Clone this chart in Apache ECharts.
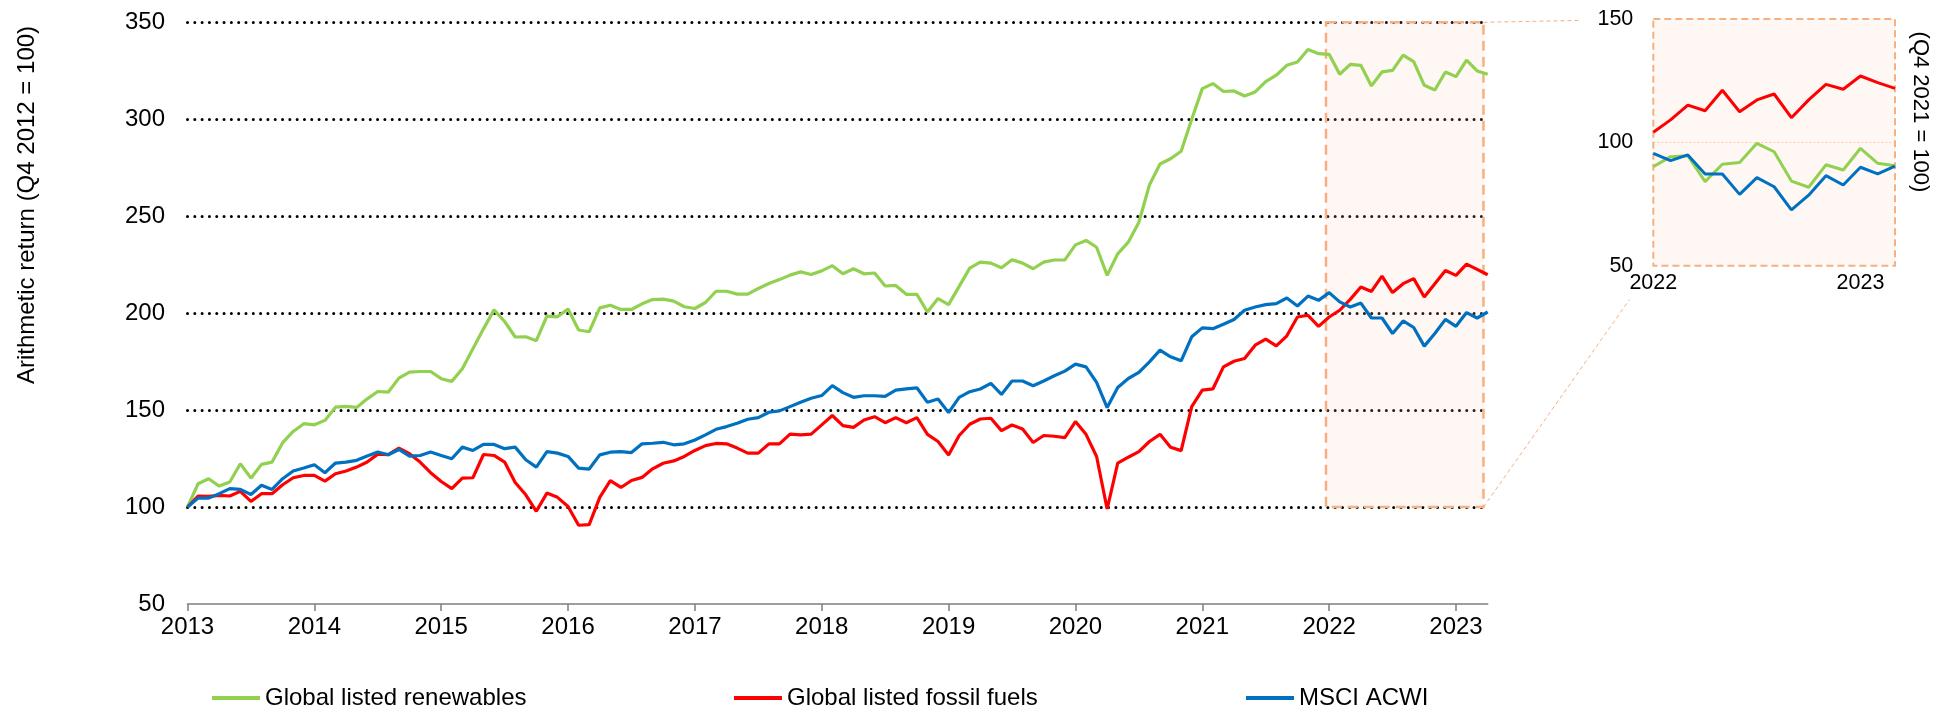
<!DOCTYPE html>
<html>
<head>
<meta charset="utf-8">
<title>Global listed renewables vs fossil fuels vs MSCI ACWI</title>
<script src="https://cdn.jsdelivr.net/npm/echarts@6/dist/echarts.min.js"></script>
<style>
  html, body { margin: 0; padding: 0; background: #fff; }
  #chart { width: 1944px; height: 713px; }
</style>
</head>
<body>
<div id="chart"></div>
<script>
// Monthly index levels, Q4 2012 = 100 (first point sits on the 2013 tick)
const years = [2013, 2014, 2015, 2016, 2017, 2018, 2019, 2020, 2021, 2022, 2023];

const renewables = [
  100.0, 112.0, 114.6, 110.8, 112.9, 122.3, 114.9, 122.0, 123.2, 133.2, 139.0, 143.0,
  142.4, 144.7, 151.5, 151.9, 151.4, 155.8, 159.6, 159.3, 166.5, 169.6, 169.9, 169.9,
  166.2, 164.8, 171.3, 181.6, 191.9, 201.7, 195.7, 187.7, 187.8, 185.8, 198.5, 198.1,
  202.1, 191.3, 190.4, 202.7, 204.1, 201.9, 201.9, 204.8, 207.0, 207.2, 206.2, 203.3,
  202.4, 205.5, 211.3, 211.3, 209.8, 209.8, 212.7, 215.3, 217.3, 219.6, 221.3, 219.9,
  221.8, 224.5, 220.3, 222.9, 220.3, 220.7, 214.0, 214.3, 209.7, 209.7, 200.6, 207.5,
  204.4, 213.8, 223.2, 226.3, 225.8, 223.4, 227.5, 225.8, 222.9, 226.3, 227.4, 227.5,
  235.2, 237.5, 234.0, 219.5, 230.6, 236.6, 246.9, 266.1, 276.9, 279.6, 283.5, 300.0,
  315.8, 318.4, 314.3, 314.6, 312.0, 314.1, 319.4, 322.7, 327.8, 329.5, 336.0, 333.8,
  333.5, 323.2, 328.3, 327.8, 317.2, 324.4, 325.2, 333.1, 329.7, 317.5, 315.1, 324.4,
  322.0, 330.5, 324.9, 323.2
];

const fossilFuels = [
  100.0, 105.7, 105.5, 106.0, 105.7, 108.1, 102.9, 106.9, 106.9, 111.5, 115.1, 116.3,
  116.3, 113.4, 117.2, 118.6, 120.6, 123.2, 127.3, 127.0, 130.4, 127.5, 123.2, 117.7,
  113.2, 109.5, 114.9, 115.1, 127.1, 126.6, 123.2, 112.7, 106.3, 97.8, 107.2, 105.0,
  100.3, 90.6, 90.9, 105.0, 113.6, 110.1, 113.7, 115.3, 119.7, 122.6, 123.8, 126.1,
  129.2, 131.7, 132.8, 132.6, 130.4, 127.8, 127.8, 132.6, 132.6, 137.6, 137.2, 137.6,
  142.4, 147.2, 142.0, 141.1, 144.9, 146.6, 143.5, 146.1, 143.5, 146.1, 137.5, 133.8,
  126.9, 136.9, 142.7, 145.4, 145.8, 139.4, 142.3, 140.3, 133.3, 136.9, 136.5, 135.8,
  144.1, 137.5, 126.1, 99.0, 122.6, 125.7, 128.6, 133.8, 137.5, 130.8, 129.1, 151.8,
  160.3, 160.9, 172.3, 175.2, 176.6, 183.5, 186.6, 183.1, 188.3, 198.0, 198.9, 193.2,
  198.0, 201.5, 207.1, 213.5, 211.2, 219.1, 210.6, 215.2, 217.8, 208.3, 215.2, 222.0,
  219.5, 225.3, 222.6, 219.8
];

const msciAcwi = [
  100.0, 104.6, 104.6, 106.9, 109.5, 109.1, 106.5, 111.2, 109.1, 114.6, 118.6, 120.1,
  121.8, 117.7, 122.7, 123.2, 124.1, 126.3, 128.4, 127.0, 129.7, 126.3, 126.6, 128.4,
  126.6, 124.9, 130.9, 129.2, 132.3, 132.3, 130.1, 130.9, 124.4, 120.6, 128.6, 127.8,
  126.1, 120.1, 119.6, 126.9, 128.3, 128.6, 128.1, 132.6, 132.9, 133.4, 132.1, 132.6,
  134.6, 137.2, 140.1, 141.5, 143.2, 145.3, 146.1, 148.9, 149.6, 151.8, 154.0, 156.1,
  157.5, 162.6, 159.0, 156.6, 157.4, 157.4, 157.1, 160.3, 160.9, 161.5, 154.0, 155.7,
  148.7, 156.6, 159.5, 160.9, 163.8, 158.1, 165.0, 165.0, 162.6, 165.0, 167.7, 170.1,
  173.7, 172.3, 164.3, 151.3, 161.7, 166.3, 169.4, 174.9, 180.9, 177.5, 175.4, 187.8,
  192.4, 192.0, 194.3, 196.7, 201.5, 203.2, 204.4, 204.9, 207.8, 203.7, 208.8, 206.6,
  210.6, 205.8, 203.2, 205.2, 197.5, 197.5, 189.5, 196.0, 192.6, 183.0, 189.5, 196.8,
  193.2, 200.3, 197.5, 200.6
];

// Zoomed panel, rebased to Q4 2021 = 100 (Jan 2022 onwards)
const insetYears = ['2022', '2023'];
const insetRenewables = [90.1, 94.2, 94.6, 84.1, 91.1, 91.8, 99.6, 96.2, 84.3, 81.8, 90.9, 88.8, 97.6, 91.5, 90.5];
const insetFossilFuels = [104.1, 109.1, 115.1, 112.8, 121.1, 112.4, 117.2, 119.6, 110.0, 117.2, 123.5, 121.5, 126.9, 124.2, 121.9];
const insetMsciAcwi = [95.5, 92.6, 94.9, 87.2, 87.2, 78.9, 85.7, 82.0, 72.6, 78.6, 86.5, 82.7, 89.9, 87.2, 90.4];

const seriesNames = ['Global listed renewables', 'Global listed fossil fuels', 'MSCI ACWI'];
const seriesColors = ['#92D050', '#FF0000', '#0070C0'];

// highlighted window on the main chart (in month positions)
const zoomWindow = { from: 107.7, to: 122.6, low: 100, high: 350 };

const FONT = "'Liberation Sans', Arial, sans-serif";
const ORANGE = '#F4B183';
const ORANGE_FILL = 'rgba(248, 203, 173, 0.15)';

const pairs = arr => arr.map((v, i) => [i, v]);

const chart = echarts.init(document.getElementById('chart'), null, { renderer: 'canvas' });

const mainLine = (name, data, color) => ({
  name, type: 'line', xAxisIndex: 0, yAxisIndex: 0,
  data: pairs(data), showSymbol: false, symbol: 'none',
  lineStyle: { color, width: 3.2 }, itemStyle: { color },
  z: 3, silent: true
});
const insetLine = (name, data, color) => ({
  name, type: 'line', xAxisIndex: 1, yAxisIndex: 1,
  data: pairs(data), showSymbol: false, symbol: 'none',
  lineStyle: { color, width: 3 }, itemStyle: { color },
  z: 3, silent: true
});

const legendCommon = {
  top: 686, padding: 0, icon: 'rect', itemWidth: 48, itemHeight: 4,
  textStyle: { fontSize: 24, color: '#000', fontFamily: FONT },
  selectedMode: false
};

const option = {
  animation: false,
  backgroundColor: '#fff',
  textStyle: { fontFamily: FONT },
  grid: [
    { left: 187.5, top: 22.3, width: 1300.2, height: 581.7 },
    { left: 1653.3, top: 19, width: 241.7, height: 246.7 }
  ],
  legend: [
    Object.assign({ left: 212, data: [seriesNames[0]] }, legendCommon),
    Object.assign({ left: 734, data: [seriesNames[1]] }, legendCommon),
    Object.assign({ left: 1246, data: [seriesNames[2]] }, legendCommon)
  ],
  xAxis: [
    {
      type: 'value', gridIndex: 0, min: 0, max: renewables.length - 1, interval: 12,
      axisLine: { show: true, onZero: false, lineStyle: { color: '#7F7F7F', width: 1.5 } },
      axisTick: { show: true, length: 7, lineStyle: { color: '#7F7F7F', width: 1.5 },
                  customValues: years.map(y => (y - years[0]) * 12) },
      axisLabel: { fontSize: 24, color: '#000', margin: 11, fontFamily: FONT,
                   customValues: years.map(y => (y - years[0]) * 12),
                   formatter: v => String(years[0] + Math.round(v / 12)) },
      splitLine: { show: false }
    },
    {
      type: 'value', gridIndex: 1, min: 0, max: insetRenewables.length - 1, interval: 12,
      axisLine: { show: false }, axisTick: { show: false, customValues: [0, 12] },
      axisLabel: { fontSize: 21.5, color: '#000', margin: 6, fontFamily: FONT,
                   customValues: [0, 12],
                   formatter: v => insetYears[Math.round(v / 12)] || '' },
      splitLine: { show: false }
    }
  ],
  yAxis: [
    {
      type: 'value', gridIndex: 0, min: 50, max: 350, interval: 50,
      axisLine: { show: false }, axisTick: { show: false },
      axisLabel: { fontSize: 24, color: '#000', margin: 22.5, fontFamily: FONT },
      splitLine: { show: true, showMinLine: false,
                   lineStyle: { color: '#000', width: 3, type: [0.01, 7.3], cap: 'round' } }
    },
    {
      type: 'value', gridIndex: 1, min: 50, max: 150, interval: 50,
      axisLine: { show: false }, axisTick: { show: false },
      axisLabel: { fontSize: 21.5, color: '#000', margin: 20, fontFamily: FONT },
      splitLine: { show: true, showMinLine: false, showMaxLine: false,
                   lineStyle: { color: '#F8CBAD', width: 1, type: [2, 2] } }
    }
  ],
  series: [
    {
      // shaded window on the main chart
      type: 'line', xAxisIndex: 0, yAxisIndex: 0, data: [], z: 1, silent: true,
      markArea: {
        silent: true,
        itemStyle: { color: ORANGE_FILL, borderColor: ORANGE, borderWidth: 2.5, borderType: [10, 6] },
        data: [[{ xAxis: zoomWindow.from, yAxis: zoomWindow.high }, { xAxis: zoomWindow.to, yAxis: zoomWindow.low }]]
      }
    },
    {
      // frame of the zoomed panel
      type: 'line', xAxisIndex: 1, yAxisIndex: 1, data: [], z: 1, silent: true,
      markArea: {
        silent: true,
        itemStyle: { color: ORANGE_FILL, borderColor: ORANGE, borderWidth: 2, borderType: [7, 4] },
        data: [[{ xAxis: 0, yAxis: 150 }, { xAxis: insetRenewables.length - 1, yAxis: 50 }]]
      }
    },
    mainLine(seriesNames[0], renewables, seriesColors[0]),
    mainLine(seriesNames[1], fossilFuels, seriesColors[1]),
    mainLine(seriesNames[2], msciAcwi, seriesColors[2]),
    insetLine(seriesNames[0], insetRenewables, seriesColors[0]),
    insetLine(seriesNames[1], insetFossilFuels, seriesColors[1]),
    insetLine(seriesNames[2], insetMsciAcwi, seriesColors[2])
  ]
};

chart.setOption(option);

// axis titles and the dashed leader lines from the window to the zoomed panel
const p = (grid, pt) => chart.convertToPixel({ gridIndex: grid }, pt);
const topFrom = p(0, [zoomWindow.to, zoomWindow.high]);
const topTo = p(1, [0, 150]);
const botFrom = p(0, [zoomWindow.to, zoomWindow.low]);
const botTo = p(1, [0, 50]);
const partWay = (a, b, t) => [a[0] + (b[0] - a[0]) * t, a[1] + (b[1] - a[1]) * t];
const topEnd = partWay(topFrom, topTo, 0.57);
const botEnd = partWay(botFrom, botTo, 0.86);

chart.setOption({
  graphic: [
    {
      type: 'text', x: 27, y: 205, rotation: Math.PI / 2, silent: true,
      style: { text: 'Arithmetic return (Q4 2012 = 100)', fill: '#000', fontSize: 24,
               fontFamily: FONT, align: 'center', verticalAlign: 'middle' }
    },
    {
      type: 'text', x: 1920, y: 112, rotation: -Math.PI / 2, silent: true,
      style: { text: '(Q4 2021 = 100)', fill: '#000', fontSize: 22,
               fontFamily: FONT, align: 'center', verticalAlign: 'middle' }
    },
    {
      type: 'line', silent: true,
      shape: { x1: topFrom[0], y1: topFrom[1], x2: topEnd[0], y2: topEnd[1] },
      style: { stroke: ORANGE, lineWidth: 1, lineDash: [4, 3] }
    },
    {
      type: 'line', silent: true,
      shape: { x1: botFrom[0], y1: botFrom[1], x2: botEnd[0], y2: botEnd[1] },
      style: { stroke: ORANGE, lineWidth: 1, lineDash: [4, 3] }
    }
  ]
});
</script>
</body>
</html>
